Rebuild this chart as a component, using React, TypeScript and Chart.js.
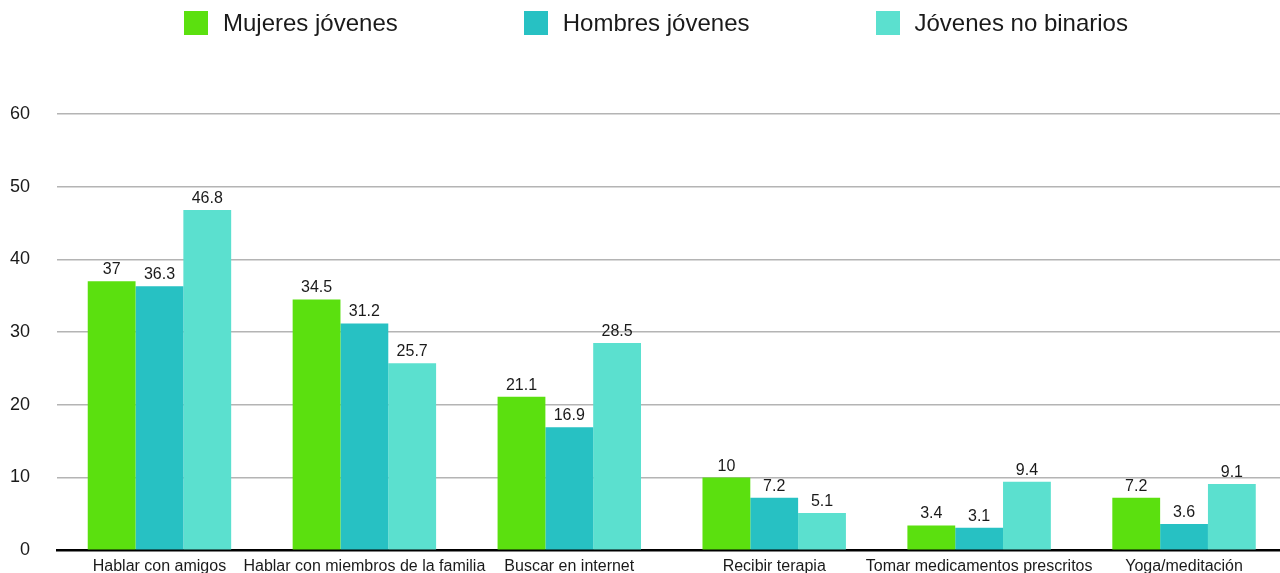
import React, { useEffect, useRef } from "react";
import { Chart, registerables } from "chart.js";

Chart.register(...registerables);

const categories = [
  "Hablar con amigos",
  "Hablar con miembros de la familia",
  "Buscar en internet",
  "Recibir terapia",
  "Tomar medicamentos prescritos",
  "Yoga/meditación",
];
const seriesNames = ["Mujeres jóvenes", "Hombres jóvenes", "Jóvenes no binarios"];
const mujeres = [37, 34.5, 21.1, 10, 3.4, 7.2];
const hombres = [36.3, 31.2, 16.9, 7.2, 3.1, 3.6];
const noBinarios = [46.8, 25.7, 28.5, 5.1, 9.4, 9.1];
const yTicks = [0, 10, 20, 30, 40, 50, 60];

const colors = ["#5BE00F", "#27C1C3", "#5BE0CF"];
const FONT = "Helvetica, 'Liberation Sans', Arial, sans-serif";
const TEXT = "#1a1a1a";

const valueLabels = {
  id: "valueLabels",
  afterDatasetsDraw(chart: any) {
    const ctx = chart.ctx;
    ctx.save();
    ctx.font = `16px ${FONT}`;
    ctx.fillStyle = TEXT;
    ctx.textAlign = "center";
    ctx.textBaseline = "alphabetic";
    chart.data.datasets.forEach((ds: any, di: number) => {
      const meta = chart.getDatasetMeta(di);
      meta.data.forEach((bar: any, i: number) => {
        ctx.fillText(String(ds.data[i]), bar.x, bar.y - 7);
      });
    });
    ctx.restore();
  },
};

export default function App() {
  const ref = useRef<HTMLCanvasElement | null>(null);

  useEffect(() => {
    if (!ref.current) return;
    const series = [mujeres, hombres, noBinarios];
    const chart = new Chart(ref.current, {
      type: "bar",
      data: {
        labels: categories,
        datasets: series.map((d, i) => ({
          label: seriesNames[i],
          data: d,
          backgroundColor: colors[i],
          borderWidth: 0,
          categoryPercentage: 0.7,
          barPercentage: 1,
        })),
      },
      options: {
        animation: false,
        responsive: false,
        devicePixelRatio: 1,
        layout: { padding: { top: 114, left: 0, right: 3.5, bottom: 0 } },
        plugins: {
          legend: { display: false },
          tooltip: { enabled: false },
        },
        scales: {
          x: {
            grid: { display: false, drawTicks: false },
            border: { display: true, color: "#000", width: 2.5 },
            ticks: {
              color: TEXT,
              font: { size: 16, family: FONT },
              padding: 7,
              maxRotation: 0,
              autoSkip: false,
            },
            afterFit(scale: any) {
              scale.height = 30;
            },
          },
          y: {
            min: 0,
            max: 60,
            afterBuildTicks(scale: any) {
              scale.ticks = yTicks.map((v) => ({ value: v }));
            },
            grid: {
              drawTicks: false,
              color: (c: any) => (c.tick && c.tick.value === 0 ? "rgba(0,0,0,0)" : "#b4b4b4"),
              lineWidth: 1.5,
            },
            border: { display: false },
            ticks: {
              color: TEXT,
              font: { size: 18, family: FONT },
              padding: 27,
            },
            afterFit(scale: any) {
              scale.width = 57;
            },
          },
        },
      },
      plugins: [valueLabels],
    });
    return () => chart.destroy();
  }, []);

  return (
    <div
      style={{
        position: "fixed",
        left: 0,
        top: 0,
        width: 1280,
        height: 573,
        overflow: "hidden",
        background: "#fff",
      }}
    >
      <canvas
        ref={ref}
        width={1290}
        height={588}
        style={{ position: "absolute", left: 0, top: 0, display: "block" }}
      />
      <div
        style={{
          position: "absolute",
          left: 184,
          top: 11,
          display: "flex",
          alignItems: "center",
          gap: 126,
          fontFamily: FONT,
          fontSize: 24,
          color: TEXT,
          whiteSpace: "nowrap",
        }}
      >
        {seriesNames.map((name, i) => (
          <div key={name} style={{ display: "flex", alignItems: "center", gap: 15 }}>
            <span style={{ width: 24, height: 24, background: colors[i], display: "inline-block" }} />
            <span style={{ lineHeight: "24px" }}>{name}</span>
          </div>
        ))}
      </div>
    </div>
  );
}
